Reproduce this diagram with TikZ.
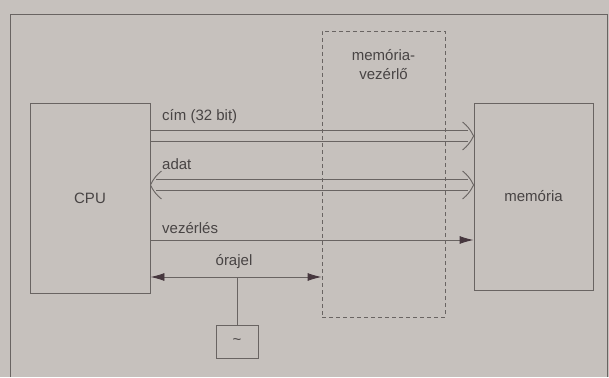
\documentclass[tikz,border=0pt]{standalone}
\usepackage{fontspec}
\setmainfont{Liberation Sans}
\usetikzlibrary{arrows.meta,positioning}
\definecolor{paper}{RGB}{198,193,189}
\definecolor{ink}{RGB}{105,100,98}
\definecolor{txtink}{RGB}{72,68,68}
\definecolor{tipink}{RGB}{70,55,62}
\tikzset{
    unit/.style={draw=ink, line width=0.9pt, minimum width=#1, inner sep=0pt},
    txt/.style={text=txtink, font=\fontsize{15}{17}\selectfont, inner sep=0pt},
    sig/.style={draw=ink, line width=0.9pt},
    sigtip/.tip={Latex[length=14pt, width=8pt, color=tipink]},
    pics/bushead/.style={code={
        \draw[sig, line join=round] (-11,-14) to[bend left=12] (0,0) to[bend left=12] (-11,14);
    }}
}
\begin{document}
\begin{tikzpicture}[x=1pt, y=-1pt]
    \useasboundingbox[fill=paper] (0,0) rectangle (609,377);
    % outer frame
    \draw[ink, line width=0.9pt] (10,377) -- (10,14) -- (607,14) -- (607,377);
    % blocks
    \node[unit=120pt, minimum height=190pt] (cpu) at (90,198) {};
    \node[txt] at (cpu) {CPU};
    \node[unit=119pt, minimum height=187pt] (mem) at (533.5,196.5) {};
    \node[txt] at (mem) {memória};
    \node[unit=123pt, minimum height=286pt, dash pattern=on 4pt off 3pt] (mvez) at (383.5,174) {};
    \node[txt, align=center, below=19pt of mvez.north] (mvezlbl) {memória-\\[2pt]vezérlő};
    \node[unit=42pt, minimum height=33pt] (clk) at (237,341.5) {};
    \node[txt] at (clk) {\textasciitilde};
    % bus end points
    \coordinate (cimY) at (0,136);
    \coordinate (adatY) at (0,185);
    \coordinate (vezY) at (0,240);
    \coordinate (oraY) at (0,277);
    \coordinate (cimA) at (cpu.east |- cimY);
    \coordinate (cimB) at (mem.west |- cimY);
    \coordinate (adatA) at (cpu.east |- adatY);
    \coordinate (adatB) at (mem.west |- adatY);
    % cim bus
    \foreach \d in {-5.5,5.5} {
        \draw[sig] ([yshift=\d pt]cimA) -- ([shift={(-6pt,\d pt)}]cimB);
    }
    \pic at (cimB) {bushead};
    % adat bus
    \foreach \d in {-5.5,5.5} {
        \draw[sig] ([shift={(6pt,\d pt)}]adatA) -- ([shift={(-6pt,\d pt)}]adatB);
    }
    \pic at (adatB) {bushead};
    \pic[xscale=-1] at (adatA) {bushead};
    % single lines
    \draw[sig, -sigtip] (cpu.east |- vezY) -- (mem.west |- vezY);
    \draw[sig, sigtip-sigtip] (cpu.east |- oraY) -- (mvez.west |- oraY);
    \draw[sig] (clk.north) -- (clk.north |- oraY);
    % labels
    \node[txt, anchor=west] (cimlbl) at (162,117) {cím (32 bit)};
    \node[txt, anchor=west] (adatlbl) at (162,164) {adat};
    \node[txt, anchor=west] (vezlbl) at (162,228) {vezérlés};
    \node[txt] (oralbl) at (234,262) {órajel};
\end{tikzpicture}
\end{document}
